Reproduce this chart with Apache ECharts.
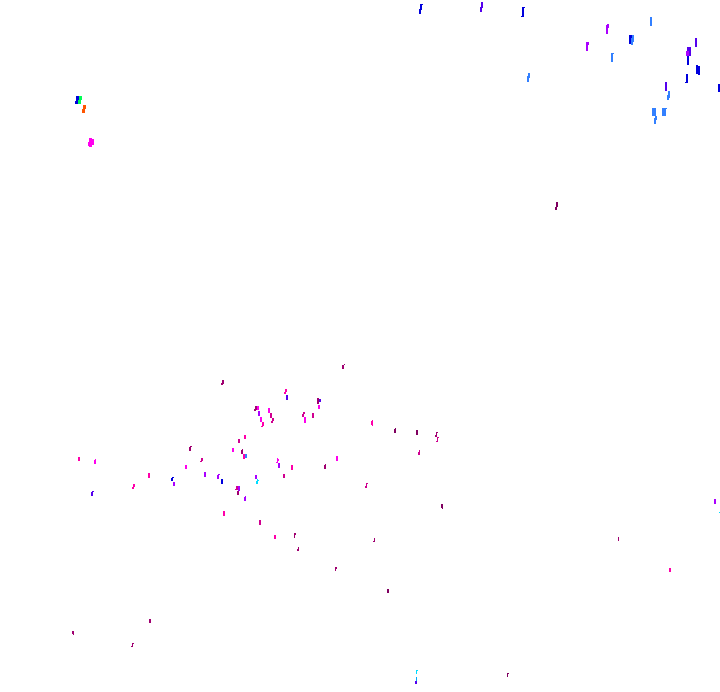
<!DOCTYPE html>
<html>
<head>
<meta charset="utf-8">
<style>html,body{margin:0;padding:0;background:#fff}#c{width:720px;height:692px}</style>
<script src="https://cdn.jsdelivr.net/npm/echarts@6/dist/echarts.min.js"></script>
</head>
<body>
<div id="c"></div>
<script>
// Each row: x from, x to, y from, y to (values on the chart's axes)
var wine = [[556,558,202,207],[555,557,207,210],[394,396,429,433],[395,396,428,429],[416,418,430,435],[441,443,504,508],[442,443,508,509],[387,389,589,593],[507,508,673,677],[508,509,673,674]];
var plum = [[222,224,380,384],[221,223,383,385],[342,344,365,369],[344,345,364,365],[317,319,398,404],[255,257,406,410],[254,256,409,411],[241,243,450,454],[242,243,449,450],[324,326,465,469],[325,326,464,465],[189,191,447,451],[190,192,446,447],[237,239,491,495],[294,295,533,538],[295,296,533,535],[298,299,547,550],[297,299,549,551],[335,336,567,571],[336,337,567,569],[374,375,538,541],[373,375,541,542],[436,437,432,435],[437,438,432,433],[435,437,435,437],[618,619,537,541],[72,74,631,634],[73,74,634,635],[149,151,619,623],[132,133,643,646],[133,134,643,644],[131,133,646,647]];
var rose = [[270,272,413,418],[272,274,418,421],[271,273,421,423],[303,305,412,414],[302,304,414,417],[312,314,413,418],[238,240,439,443],[201,203,458,461],[200,202,461,462],[283,285,474,478],[236,239,486,490],[235,237,489,490],[259,261,520,525],[437,438,437,441],[438,439,437,438],[436,438,441,442],[419,420,450,452],[418,420,452,455],[366,367,483,486],[367,368,483,484],[365,367,486,488]];
var pink = [[285,287,389,392],[284,286,392,394],[262,264,422,426],[261,263,426,427],[244,246,435,439],[243,245,454,459],[291,293,465,470],[78,80,457,461],[148,150,473,478],[133,135,484,487],[132,134,487,489],[223,225,511,516],[274,276,535,539],[371,373,421,425],[372,373,420,426],[669,671,568,572]];
var magenta = [[318,320,405,409],[257,259,406,410],[268,270,408,413],[260,262,417,422],[304,306,417,423],[232,234,448,452],[336,338,456,461],[277,278,458,462],[278,279,459,461],[276,278,462,463],[94,96,460,464],[95,96,459,460],[185,187,465,469],[89,92,138,147],[92,94,139,145],[88,92,142,146]];
var purple = [[607,609,24,28],[606,608,25,34],[586,589,42,45],[586,588,45,51],[258,260,411,416],[278,280,463,468],[204,206,472,477],[217,219,475,479],[218,220,474,475],[255,257,475,479],[238,240,486,491],[244,246,497,501],[245,246,496,497],[173,175,482,486],[714,716,499,504]];
var violet = [[695,697,38,47],[687,691,47,56],[665,667,82,91],[481,483,2,8],[480,482,7,12],[286,288,395,400],[319,321,399,402],[91,93,492,496],[92,94,491,492],[415,417,681,684]];
var purpleTop = [[686,689,51,56]];
var blue = [[629,632,35,44],[687,689,56,65],[696,698,65,74],[698,700,66,75],[686,688,74,82],[685,688,82,83],[718,720,84,92],[420,423,4,5],[420,422,5,10],[419,421,9,14],[522,525,7,8],[522,524,8,16],[521,524,16,17],[221,223,479,484],[171,173,478,481],[172,174,477,478],[76,79,96,104],[75,76,101,104]];
var sky = [[650,652,17,26],[632,634,35,42],[631,633,38,45],[611,614,53,54],[611,613,54,62],[668,670,91,98],[667,669,95,100],[652,656,108,116],[662,666,108,116],[666,667,108,109],[655,657,116,120],[654,656,118,124],[528,530,73,78],[527,529,76,82],[245,247,454,458]];
var azure = [[416,417,677,681]];
var cyan = [[257,258,479,481],[258,259,480,481],[256,258,481,484],[719,720,512,513],[416,417,670,674],[417,418,670,671]];
var green = [[79,82,96,100],[78,81,100,104]];
var orange = [[83,86,105,109],[82,85,109,113]];

var groups = [
  [wine,'#800060'],[plum,'#a00070'],[rose,'#d00090'],[pink,'#ff00aa'],[magenta,'#ff00ee'],
  [violet,'#5500ee'],[purple,'#aa00ff'],[purpleTop,'#aa00ff'],[blue,'#0000dd'],[sky,'#3380ff'],
  [azure,'#00aaff'],[cyan,'#00ddff'],[green,'#00ff55'],[orange,'#ff5500']
];

function renderItem(params, api) {
  var a = api.coord([api.value(0), api.value(2)]);
  var b = api.coord([api.value(1), api.value(3)]);
  return {
    type: 'rect',
    shape: {x: a[0], y: a[1], width: b[0] - a[0], height: b[1] - a[1]},
    style: {fill: api.visual('color')}
  };
}

var chart = echarts.init(document.getElementById('c'), null, {renderer: 'canvas'});
chart.setOption({
  animation: false,
  backgroundColor: '#ffffff',
  grid: {left: 0, right: 0, top: 0, bottom: 0},
  xAxis: {type: 'value', min: 0, max: 720, show: false},
  yAxis: {type: 'value', min: 0, max: 692, inverse: true, show: false},
  series: groups.map(function (g) {
    return {
      type: 'custom',
      renderItem: renderItem,
      data: g[0],
      encode: {x: [0, 1], y: [2, 3]},
      itemStyle: {color: g[1]},
      clip: false,
      silent: true
    };
  })
});
</script>
</body>
</html>
